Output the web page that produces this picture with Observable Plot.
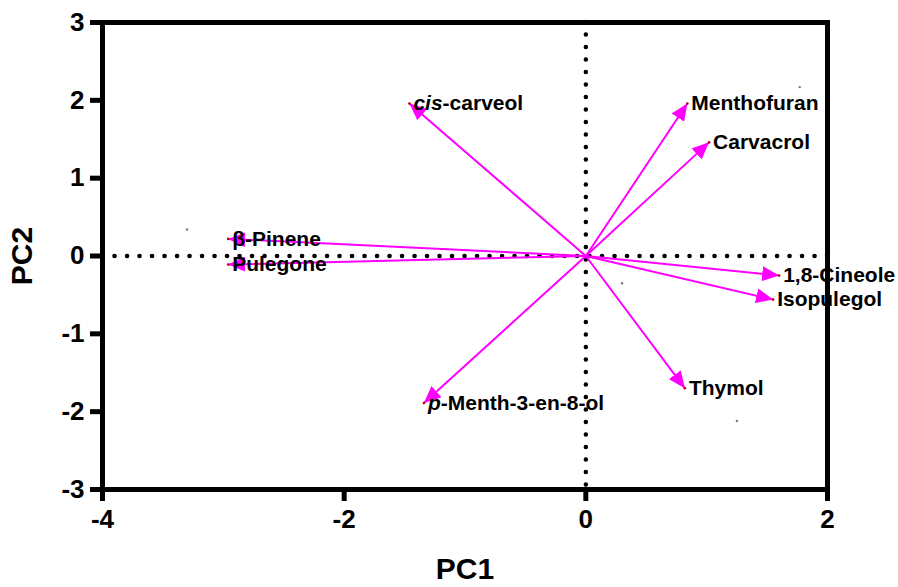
<!DOCTYPE html>
<html>
<head>
<meta charset="utf-8">
<script src="https://cdn.jsdelivr.net/npm/d3@7"></script>
<script src="https://cdn.jsdelivr.net/npm/@observablehq/plot@0.6"></script>
<style>
  html, body { margin: 0; padding: 0; background: #fff; }
</style>
</head>
<body>
<div id="chart"></div>
<script>
// Loadings (arrow tips)
const variables = ["cis-carveol", "Menthofuran", "Carvacrol", "β-Pinene", "Pulegone", "1,8-Cineole", "Isopulegol", "Thymol", "p-Menth-3-en-8-ol"];
const pc1 = [-1.46, 0.84, 1.02, -2.96, -2.96, 1.60, 1.55, 0.82, -1.34];
const pc2 = [1.96, 1.96, 1.46, 0.22, -0.11, -0.25, -0.56, -1.70, -1.89];

// Scores (small grey points)
const scoreX = [-3.30, 1.77, 0.30, 1.25];
const scoreY = [0.34, 2.17, -0.35, -2.12];

const xTicks = [-4, -2, 0, 2];
const yTicks = [-3, -2, -1, 0, 1, 2, 3];

const loadings = variables.map((name, i) => ({name, x: pc1[i], y: pc2[i]}));
const scores = scoreX.map((x, i) => ({x, y: scoreY[i]}));

function headMarker(color) {
  const m = d3.create("svg:marker")
    .attr("viewBox", "-17 -7.5 17 15")
    .attr("markerWidth", 17)
    .attr("markerHeight", 15)
    .attr("markerUnits", "userSpaceOnUse")
    .attr("orient", "auto")
    .attr("fill", color)
    .attr("stroke", "none");
  m.append("path").attr("d", "M0,0L-17,-7.5L-17,7.5Z");
  return m.node();
}

const magenta = "#ff00ff";
const fmt = d => d < 0 ? "-" + Math.abs(d) : String(d);

const chart = Plot.plot({
  width: 898,
  height: 587,
  marginLeft: 102,
  marginRight: 71,
  marginTop: 22,
  marginBottom: 98,
  style: {fontFamily: "'Liberation Sans', Arial, sans-serif", fontWeight: "bold", background: "#fff", color: "#000"},
  x: {domain: [-4, 2], label: null},
  y: {domain: [-3, 3], label: null},
  marks: [
    Plot.ruleY([0], {stroke: "#000", strokeWidth: 4.5, strokeDasharray: "0.1 12.4", strokeLinecap: "round"}),
    Plot.ruleX([0], {stroke: "#000", strokeWidth: 4.5, strokeDasharray: "0.1 12.4", strokeLinecap: "round"}),
    Plot.dot(scores, {x: "x", y: "y", r: 1.2, fill: "#777", stroke: "none"}),
    Plot.link(loadings, {x1: 0, y1: 0, x2: "x", y2: "y", stroke: magenta, strokeWidth: 2, markerEnd: headMarker}),
    Plot.dot(loadings, {x: "x", y: "y", r: 1.3, fill: "#c00000", stroke: "none"}),
    Plot.text(loadings, {x: "x", y: "y", text: "name", textAnchor: "start", dx: 4, fontSize: 21, fontWeight: "bold", fill: "#000"}),
    Plot.frame({stroke: "#000", strokeWidth: 5}),
    Plot.axisX({ticks: xTicks, tickSize: 12, tickPadding: 8, strokeWidth: 5, fontSize: 26, fontWeight: "bold", tickFormat: fmt, label: null}),
    Plot.axisY({ticks: yTicks, tickSize: 12, tickPadding: 6, strokeWidth: 5, fontSize: 26, fontWeight: "bold", tickFormat: fmt, label: null}),
    Plot.text(["PC1"], {frameAnchor: "bottom", dy: 89, text: d => d, textAnchor: "middle", fontSize: 30, fontWeight: "bold", fill: "#000"}),
    Plot.text(["PC2"], {frameAnchor: "left", dx: -80, rotate: -90, text: d => d, textAnchor: "middle", fontSize: 30, fontWeight: "bold", fill: "#000"})
  ]
});

// italic prefixes in chemical names
const italic = {"cis-carveol": ["cis", "-carveol"], "p-Menth-3-en-8-ol": ["p", "-Menth-3-en-8-ol"]};
chart.querySelectorAll("text").forEach(t => {
  const parts = italic[t.textContent];
  if (parts) {
    t.textContent = "";
    const ns = "http://www.w3.org/2000/svg";
    const a = document.createElementNS(ns, "tspan");
    a.setAttribute("font-style", "italic");
    a.textContent = parts[0];
    const b = document.createElementNS(ns, "tspan");
    b.textContent = parts[1];
    t.appendChild(a);
    t.appendChild(b);
  }
});

document.getElementById("chart").appendChild(chart);
</script>
</body>
</html>
